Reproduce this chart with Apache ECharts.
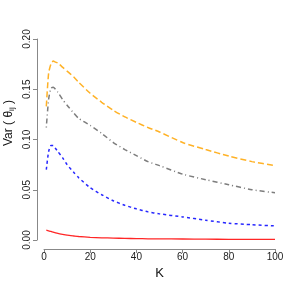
<!DOCTYPE html>
<html><head><meta charset="utf-8">
<script src="https://cdn.jsdelivr.net/npm/echarts@6/dist/echarts.min.js"></script>
<style>html,body{margin:0;padding:0;background:#fff}#c{width:287px;height:287px}</style>
</head><body><div id="c"></div>
<script>
const K = [1,2,3,4,5,6,8,10,13,15,20,25,30,35,40,45,50,60,70,80,90,100];
const orangeVals = [0.133,0.166,0.175,0.178,0.177,0.176,0.172,0.168,0.162,0.157,0.146,0.137,0.129,0.1225,0.117,0.112,0.1075,0.097,0.090,0.0835,0.078,0.074];
const grayVals = [0.112,0.140,0.151,0.152,0.150,0.147,0.140,0.134,0.126,0.121,0.114,0.106,0.097,0.090,0.084,0.078,0.074,0.0655,0.060,0.055,0.050,0.047];
const blueVals = [0.070,0.088,0.094,0.094,0.091,0.088,0.082,0.075,0.067,0.062,0.052,0.045,0.039,0.0345,0.031,0.028,0.026,0.023,0.0197,0.0167,0.0152,0.014];
const redVals = [0.0098,0.0092,0.0085,0.0078,0.0071,0.0065,0.0056,0.0048,0.0040,0.0035,0.0027,0.0022,0.0019,0.0016,0.0014,0.0012,0.0011,0.0010,0.0008,0.0007,0.0007,0.0006];
const xTicks = [0,20,40,60,80,100];
const yTicks = [0.00,0.05,0.10,0.15,0.20];

const pair = v => K.map((k,i)=>[k,v[i]]);
const FONT = 'Liberation Sans';
const chart = echarts.init(document.getElementById('c'));
function mk(name, vals, color, dash, w){
  return {name, type:'line', data:pair(vals), showSymbol:false, smooth:0.2,
    lineStyle:{color, width:w, type:dash, opacity:0.85}, z:3, animation:false};
}
chart.setOption({
  animation:false,
  grid:{left:44, right:12, top:39, bottom:47, containLabel:false},
  xAxis:{type:'value', min:xTicks[0], max:xTicks[xTicks.length-1], interval:20, offset:9,
    axisLine:{show:true, onZero:false, lineStyle:{color:'#888', width:1}},
    axisTick:{show:true, length:4, lineStyle:{color:'#888'}},
    axisLabel:{margin:3, color:'#222', fontFamily:FONT, fontSize:10},
    splitLine:{show:false},
    name:'K', nameLocation:'middle', nameGap:15,
    nameTextStyle:{fontFamily:FONT, fontSize:13, color:'#111'}},
  yAxis:{type:'value', min:yTicks[0], max:yTicks[yTicks.length-1], interval:0.05, offset:7,
    axisLine:{show:true, onZero:false, lineStyle:{color:'#888', width:1}},
    axisTick:{show:true, length:4, lineStyle:{color:'#888'}},
    axisLabel:{margin:5, rotate:90, color:'#222', fontFamily:FONT, fontSize:10,
      formatter: v => v.toFixed(2)},
    splitLine:{show:false}},
  graphic:[{type:'text', left:3, top:100, rotation:Math.PI/2,
    style:{text:'Var ( θ{s|ij} )', fontFamily:FONT, fontSize:12, fill:'#111',
      rich:{s:{fontSize:8, verticalAlign:'bottom', padding:[6,0,0,0], fontFamily:FONT, fill:'#111'}}}}],
  series:[
    mk('orange', orangeVals, '#FFA500', [6,3], 1.5),
    mk('gray', grayVals, '#666666', [1,3,5,3], 1.5),
    mk('blue', blueVals, '#0000FF', [3,3], 1.5),
    mk('red', redVals, '#FF0000', 'solid', 1.3)
  ]
});
</script></body></html>
